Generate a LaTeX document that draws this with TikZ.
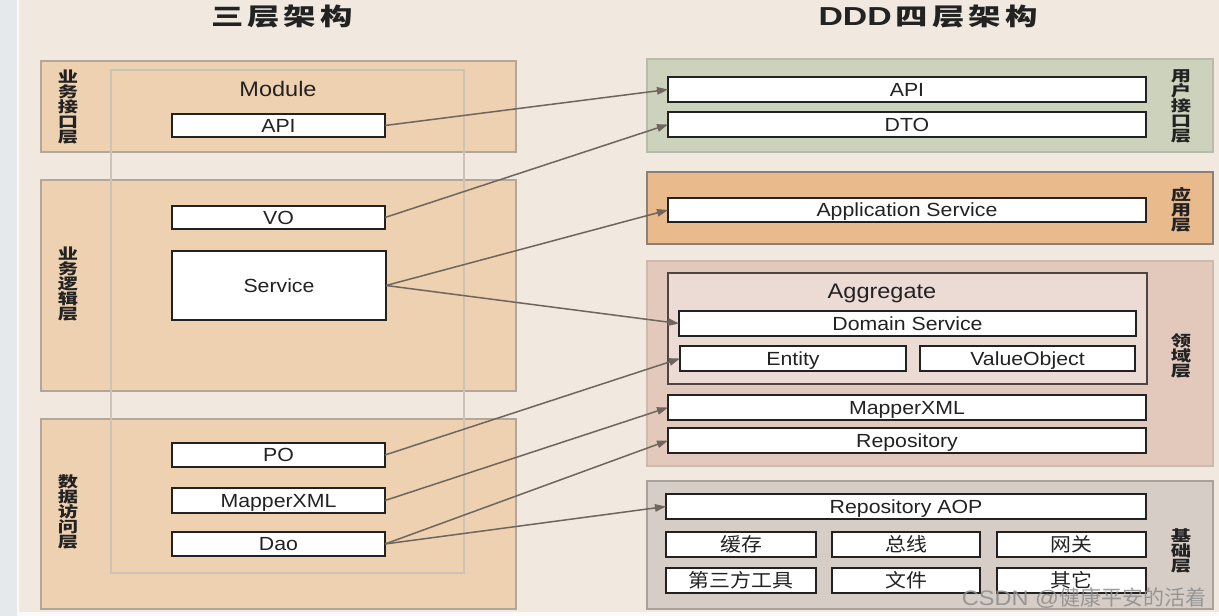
\documentclass[tikz,border=0pt]{standalone}
\usepackage{fontspec}
\setmainfont{Liberation Sans}[FakeStretch=1.12]
\newfontfamily\cjkb{Noto Sans CJK SC}[FakeStretch=1.35]
\newfontfamily\cjkr{Noto Sans CJK SC}[FakeStretch=1.1]
\newfontfamily\cjkw{Noto Sans CJK SC}
\newfontfamily\ttlfont{Liberation Sans}[FakeStretch=1.3]
\usetikzlibrary{arrows.meta}
\definecolor{bgc}{HTML}{F1E8DF}
\definecolor{stripc}{HTML}{E5E9EC}
\definecolor{peach}{HTML}{EED1B0}
\definecolor{peachline}{HTML}{B3A79B}
\definecolor{modline}{HTML}{CDC2B6}
\definecolor{greenl}{HTML}{CDD2BC}
\definecolor{greenline}{HTML}{B7BBA8}
\definecolor{orangel}{HTML}{E9BA8B}
\definecolor{orangeline}{HTML}{8C8176}
\definecolor{pinkl}{HTML}{E3C9BC}
\definecolor{pinkline}{HTML}{CFB9AE}
\definecolor{aggf}{HTML}{ECDAD5}
\definecolor{aggline}{HTML}{4E4441}
\definecolor{grayl}{HTML}{D6CDC7}
\definecolor{grayline}{HTML}{A8A19C}
\definecolor{arrowc}{HTML}{6E665E}
\definecolor{txt}{HTML}{222222}
\newcommand\spc{\hspace{4pt}}
\newcommand\bx[7]{\node[#1, minimum width={#5pt-#3pt}, minimum height={#6pt-#4pt}] (#2) at ({(#3+#5)/2},{(#4+#6)/2}) {#7};}
\tikzset{
  layer/.style={draw=#1, line width=2pt, inner sep=0pt, outer sep=0pt},
  box/.style={draw=txt, fill=white, line width=1.2pt, inner sep=0pt, outer sep=0pt, text=txt, font=\fontsize{19}{19}\selectfont, text height=13.6pt, text depth=0pt},
  cbox/.style={box, font=\cjkr\fontsize{19}{19}\selectfont, text height=14.2pt},
  vlab/.style={font=\cjkb\bfseries\fontsize{15}{15}\selectfont, align=center, text=txt, inner sep=0pt},
  hdr/.style={text=txt, inner sep=0pt, font=\fontsize{21}{21}\selectfont, text height=15pt, text depth=0pt},
  arr/.style={draw=arrowc, line width=1.5pt, -{Triangle[length=11pt,width=7.5pt]}},
}
\begin{document}
\begin{tikzpicture}[x=1pt,y=-1pt]
\useasboundingbox (0,0) rectangle (1219,616);
% backgrounds
\fill[white!96!gray] (0,0) rectangle (1219,616);
\fill[stripc] (0,0) rectangle (17,616);
\fill[bgc] (19,0) rectangle (1219,612);
% titles
\node[text=txt] (t1) at (282,17) {\cjkb\bfseries\fontsize{24}{24}\selectfont 三\spc 层\spc 架\spc 构};
\node[text=txt] (t2) at (928,17) {\ttlfont\bfseries\fontsize{26}{26}\selectfont DDD\spc{\cjkb\bfseries\fontsize{24}{24}\selectfont 四\spc 层\spc 架\spc 构}};
% left layers
\bx{layer=peachline, fill=peach}{L1}{41}{61}{516}{152}{}
\bx{layer=peachline, fill=peach}{L2}{41}{180}{516}{391}{}
\bx{layer=peachline, fill=peach}{L3}{41}{419}{516}{609}{}
\bx{draw=modline, line width=1.5pt, inner sep=0pt}{mod}{111}{70}{464}{573}{}
\node[vlab] (l1t) at (68,107) {业\\务\\接\\口\\层};
\node[vlab] (l2t) at (68,284) {业\\务\\逻\\辑\\层};
\node[vlab] (l3t) at (68,512) {数\\据\\访\\问\\层};
\node[hdr] (modt) at (278,88.5) {Module};
\bx{box}{lapi}{172}{114}{385}{137}{API}
\bx{box}{lvo}{172}{206}{385}{229}{VO}
\bx{box}{lsvc}{172}{251}{386}{320}{Service}
\bx{box}{lpo}{172}{443}{385}{467}{PO}
\bx{box}{lmap}{172}{488}{385}{513}{MapperXML}
\bx{box}{ldao}{172}{532}{385}{556}{Dao}
% right layers
\bx{layer=greenline, fill=greenl}{R1}{647}{59}{1213}{152}{}
\bx{layer=orangeline, fill=orangel}{R2}{647}{172}{1213}{244}{}
\bx{layer=pinkline, fill=pinkl}{R3}{647}{261}{1213}{466}{}
\bx{layer=grayline, fill=grayl}{R4}{647}{481}{1213}{609}{}
\node[vlab] (r1t) at (1181,106) {用\\户\\接\\口\\层};
\node[vlab] (r2t) at (1181,210) {应\\用\\层};
\node[vlab] (r3t) at (1181,356) {领\\域\\层};
\node[vlab] (r4t) at (1181,551) {基\\础\\层};
\bx{box}{rapi}{668}{77}{1146}{102}{API}
\bx{box}{rdto}{668}{112}{1146}{137}{DTO}
\bx{box}{rapp}{668}{198}{1146}{222}{Application Service}
\bx{draw=aggline, fill=aggf, line width=1.5pt, inner sep=0pt}{agg}{668}{273}{1147}{384}{}
\node[hdr] (aggt) at (882,291) {Aggregate};
\bx{box}{rdom}{679}{311}{1136}{336}{Domain Service}
\bx{box}{rent}{680}{346}{906}{371}{Entity}
\bx{box}{rvo}{920}{346}{1135}{371}{ValueObject}
\bx{box}{rmap}{668}{395}{1146}{420}{MapperXML}
\bx{box}{rrepo}{668}{428}{1146}{453}{Repository}
\bx{box}{raop}{666}{494}{1146}{519}{Repository AOP}
\bx{cbox}{c11}{666}{532}{816}{557}{缓存}
\bx{cbox}{c12}{832}{532}{980}{557}{总线}
\bx{cbox}{c13}{997}{532}{1146}{557}{网关}
\bx{cbox}{c21}{666}{568}{816}{593}{第三方工具}
\bx{cbox}{c22}{832}{568}{980}{593}{文件}
\bx{cbox}{c23}{997}{568}{1146}{593}{其它}
% arrows
\draw[arr] (lapi.east) -- (rapi.west);
\draw[arr] (lvo.east) -- (rdto.west);
\draw[arr] (lsvc.east) -- (rapp.west);
\draw[arr] (lsvc.east) -- (rdom.west);
\draw[arr] (lpo.east) -- (rent.west);
\draw[arr] (lmap.east) -- (rmap.west);
\draw[arr] (ldao.east) -- (rrepo.west);
\draw[arr] (ldao.east) -- (raop.west);
% watermark
\node[text=black!45, opacity=0.85] (wm) at (1084,598) {\fontsize{21}{21}\selectfont CSDN @{\cjkw 健康平安的活着}};
\end{tikzpicture}
\end{document}
